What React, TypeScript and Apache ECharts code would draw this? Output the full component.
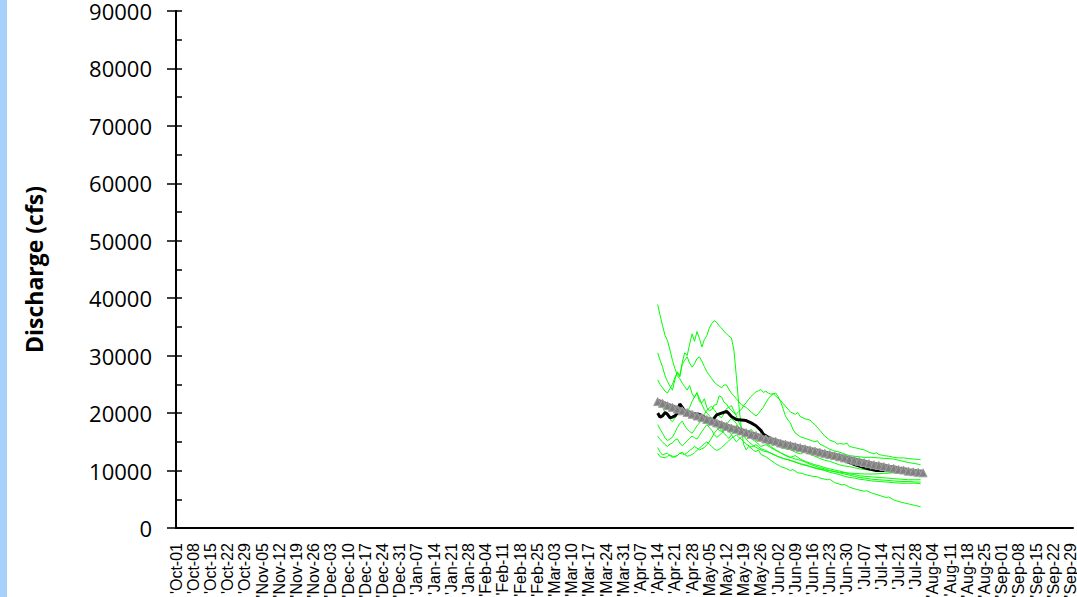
import React, { useEffect, useRef } from "react";
import * as echarts from "echarts";

const weekLabels = [
  "'Oct-01", "'Oct-08", "'Oct-15", "'Oct-22", "'Oct-29", "'Nov-05", "'Nov-12", "'Nov-19", "'Nov-26",
  "'Dec-03", "'Dec-10", "'Dec-17", "'Dec-24", "'Dec-31", "'Jan-07", "'Jan-14", "'Jan-21", "'Jan-28",
  "'Feb-04", "'Feb-11", "'Feb-18", "'Feb-25", "'Mar-03", "'Mar-10", "'Mar-17", "'Mar-24", "'Mar-31",
  "'Apr-07", "'Apr-14", "'Apr-21", "'Apr-28", "'May-05", "'May-12", "'May-19", "'May-26", "'Jun-02",
  "'Jun-09", "'Jun-16", "'Jun-23", "'Jun-30", "'Jul-07", "'Jul-14", "'Jul-21", "'Jul-28", "'Aug-04",
  "'Aug-11", "'Aug-18", "'Aug-25", "'Sep-01", "'Sep-08", "'Sep-15", "'Sep-22", "'Sep-29",
];

// [day since Oct-01, discharge cfs]
const normalCurve = [
  [196, 22000], [198, 21700], [200, 21300], [202, 21000], [204, 20700], [206, 20400], [208, 20100],
  [210, 19800], [212, 19500], [214, 19200], [216, 18900], [218, 18600], [220, 18300], [222, 18000],
  [224, 17700], [226, 17400], [228, 17200], [230, 16900], [232, 16600], [234, 16300], [236, 16100],
  [238, 15800], [240, 15500], [242, 15300], [244, 15100], [246, 14800], [248, 14600], [250, 14400],
  [252, 14200], [254, 14000], [256, 13800], [258, 13600], [260, 13400], [262, 13200], [264, 13000],
  [266, 12800], [268, 12600], [270, 12400], [272, 12200], [274, 12000], [276, 11800], [278, 11600],
  [280, 11400], [282, 11200], [284, 11000], [286, 10900], [288, 10700], [290, 10500], [292, 10400],
  [294, 10200], [296, 10100], [298, 9900], [300, 9800], [302, 9700], [304, 9600],
];

const currentYear = [
  [196, 20000], [197, 19300], [198, 19500], [199, 20100], [200, 19800], [201, 19200], [202, 19300],
  [203, 19500], [204, 20000], [205, 21600], [206, 21000], [207, 20300], [208, 20000], [210, 19800],
  [212, 19900], [214, 19600], [216, 19000], [218, 18600], [220, 19700], [222, 20000], [224, 20300],
  [225, 19900], [226, 19400], [228, 18900], [230, 18800], [232, 18700], [234, 18300], [236, 17800],
  [238, 17000], [239, 16300], [241, 15800], [244, 15100], [250, 14300], [255, 13800], [260, 13200],
  [265, 12700], [270, 12100], [274, 11400], [277, 10900], [281, 10400], [285, 10000], [290, 10000],
  [295, 9900], [300, 9600], [303, 9500],
];

const yearA = [
  [196, 38900], [197, 37000], [198, 35200], [199, 33500], [200, 32600], [201, 31000], [202, 29200],
  [203, 27800], [204, 26500], [205, 26000], [206, 25200], [207, 24600], [208, 24000], [209, 24800],
  [210, 23400], [211, 22700], [212, 23600], [213, 22000], [214, 21800], [215, 22500], [216, 21000],
  [217, 20400], [218, 20600], [219, 21400], [220, 21500], [221, 23000], [222, 22800], [223, 21900],
  [224, 21600], [225, 20900], [226, 20500], [227, 20000], [228, 19800], [229, 20300], [230, 20600],
  [231, 21300], [232, 21800], [233, 22400], [234, 22900], [235, 23300], [236, 23700], [237, 23900],
  [238, 24100], [239, 23600], [240, 23800], [241, 23500], [242, 23300], [243, 23400], [244, 23000],
  [246, 22200], [248, 21200], [250, 20200], [252, 19800], [253, 20100], [254, 19400], [256, 19000],
  [258, 18800], [259, 18300], [260, 18000], [262, 17000], [264, 16000], [266, 15300], [268, 15000],
  [269, 14600], [270, 14700], [272, 14600], [273, 14800], [274, 14200], [276, 14000], [278, 13800],
  [280, 13600], [282, 13200], [284, 12900], [285, 13100], [286, 12800], [288, 12600], [290, 12500],
  [292, 12300], [294, 12200], [296, 12200], [298, 12100], [300, 12000], [303, 11900],
];

const yearB = [
  [196, 30500], [197, 29200], [198, 28000], [199, 26500], [200, 25500], [201, 24700], [202, 24000],
  [203, 25800], [204, 27200], [205, 26500], [206, 28800], [207, 30500], [208, 30000], [209, 32000],
  [210, 33800], [211, 32500], [212, 34200], [213, 33000], [214, 31500], [215, 32800], [216, 33500],
  [217, 34800], [218, 35600], [219, 36100], [220, 35800], [221, 35200], [222, 34800], [223, 34200],
  [224, 33800], [225, 33400], [226, 33100], [227, 31000], [228, 26500], [229, 21500], [230, 17500],
  [231, 14500], [232, 13600], [233, 14200], [234, 13900], [235, 13500], [236, 13300], [237, 13600],
  [238, 12800], [240, 12400], [242, 11800], [244, 11200], [246, 10700], [248, 10400], [250, 10000],
  [251, 10200], [253, 9600], [255, 9500], [256, 9300], [258, 9100], [259, 9000], [261, 8900],
  [262, 8700], [265, 8400], [266, 8500], [268, 7900], [271, 7500], [272, 7600], [274, 7100],
  [277, 6700], [280, 6400], [281, 6500], [283, 6100], [286, 5700], [289, 5300], [290, 5400],
  [292, 4900], [295, 4500], [298, 4200], [301, 3900], [303, 3700],
];

const yearC = [
  [196, 25800], [197, 25000], [198, 24400], [199, 23800], [200, 23500], [201, 24300], [202, 25000],
  [203, 26200], [204, 27000], [205, 26300], [206, 28500], [207, 29200], [208, 29800], [209, 28700],
  [210, 28000], [211, 28600], [212, 29500], [213, 29800], [214, 29000], [215, 28100], [216, 27200],
  [217, 26600], [218, 26000], [219, 25400], [220, 25000], [221, 24700], [222, 24400], [223, 24900],
  [224, 24900], [225, 24100], [226, 23500], [227, 23000], [228, 22500], [229, 22000], [230, 21500],
  [232, 21000], [234, 20200], [236, 19500], [237, 19900], [238, 20500], [239, 21000], [240, 21800],
  [241, 22500], [242, 23000], [243, 23300], [244, 23500], [245, 22900], [246, 22000], [247, 20800],
  [248, 19500], [249, 18800], [250, 18300], [251, 17200], [252, 16500], [254, 15900], [256, 15600],
  [258, 15300], [260, 15000], [261, 15200], [262, 14600], [264, 14200], [266, 13700], [268, 13400],
  [270, 13200], [272, 12900], [274, 12600], [276, 12500], [278, 12400], [280, 12300], [283, 12300],
  [286, 12200], [289, 12100], [292, 12000], [295, 11700], [298, 11400], [301, 11200], [303, 11000],
];

const yearD = [
  [196, 22500], [197, 21600], [198, 21000], [199, 20100], [200, 19500], [201, 18900], [202, 18500],
  [203, 19100], [204, 19800], [205, 20600], [206, 21000], [207, 20300], [208, 20000], [209, 21000],
  [210, 22000], [211, 22900], [212, 23500], [213, 22600], [214, 21500], [215, 20600], [216, 20000],
  [217, 19600], [218, 19000], [219, 18100], [220, 17500], [221, 17000], [222, 16800], [223, 17300],
  [224, 18000], [225, 18600], [226, 19000], [227, 18700], [228, 18200], [229, 17500], [230, 17000],
  [232, 16800], [234, 16000], [236, 15200], [237, 15500], [238, 15800], [240, 16300], [242, 15500],
  [244, 14600], [246, 14000], [248, 13800], [250, 13600], [252, 13200], [254, 12900], [256, 13300],
  [258, 12800], [260, 12500], [262, 12100], [264, 11800], [266, 11600], [268, 11300], [270, 11000],
  [272, 10800], [274, 10700], [276, 10500], [278, 10300], [280, 10200], [283, 10000], [286, 9900],
  [289, 9800], [292, 9700], [295, 9500], [298, 9400], [301, 9300], [303, 9200],
];

const yearE = [
  [196, 18000], [197, 17200], [198, 16500], [199, 15700], [200, 15200], [201, 15500], [202, 15800],
  [203, 16600], [204, 17500], [205, 18200], [206, 18600], [207, 17800], [208, 17200], [209, 16800],
  [210, 16500], [211, 17100], [212, 17800], [213, 18300], [214, 19000], [215, 19800], [216, 20500],
  [217, 20900], [218, 21200], [219, 20600], [220, 20000], [221, 19500], [222, 19200], [223, 19900],
  [224, 20800], [225, 21000], [226, 21300], [227, 20400], [228, 19500], [229, 18400], [230, 17600],
  [232, 16500], [234, 15600], [236, 15000], [238, 14200], [240, 14500], [242, 14000], [244, 13500],
  [246, 13100], [248, 12700], [250, 12300], [252, 12600], [254, 12000], [256, 11600], [258, 11300],
  [260, 11000], [262, 10800], [264, 10500], [266, 10300], [268, 10100], [270, 9900], [272, 9700],
  [274, 9400], [276, 9300], [278, 9100], [280, 9000], [283, 8900], [286, 8800], [289, 8700],
  [292, 8600], [295, 8500], [298, 8400], [301, 8400], [303, 8400],
];

const yearF = [
  [196, 16000], [197, 15400], [198, 15000], [199, 14500], [200, 14200], [201, 14600], [202, 14800],
  [203, 15300], [204, 15500], [205, 14800], [206, 14300], [207, 14700], [208, 15200], [209, 15600],
  [210, 16000], [211, 15700], [212, 15500], [213, 16100], [214, 16800], [215, 17400], [216, 18000],
  [217, 17500], [218, 17000], [219, 16300], [220, 15800], [221, 16100], [222, 16500], [223, 16900],
  [224, 17200], [225, 16800], [226, 16300], [227, 15600], [228, 15000], [229, 15400], [230, 15800],
  [232, 16500], [234, 17200], [236, 16200], [238, 15300], [240, 14800], [242, 14200], [244, 13600],
  [246, 13100], [248, 12600], [250, 12300], [252, 12000], [254, 11800], [256, 11500], [258, 11100],
  [260, 10800], [262, 10500], [264, 10300], [266, 10000], [268, 9800], [270, 9600], [272, 9400],
  [274, 9200], [276, 9000], [278, 8800], [280, 8700], [283, 8500], [286, 8400], [289, 8300],
  [292, 8200], [295, 8100], [298, 8100], [301, 8000], [303, 8000],
];

const yearG = [
  [196, 14000], [197, 13200], [198, 12700], [199, 12900], [200, 13000], [201, 12600], [202, 12300],
  [203, 12500], [204, 12600], [205, 13000], [206, 13200], [207, 12800], [208, 12500], [209, 12600],
  [210, 12800], [211, 13100], [212, 13500], [213, 13900], [214, 14300], [215, 14700], [216, 15000],
  [217, 14600], [218, 14200], [219, 13800], [220, 13500], [221, 13700], [222, 14000], [223, 14400],
  [224, 14800], [225, 15200], [226, 15600], [227, 15900], [228, 16200], [229, 15800], [230, 15500],
  [232, 14600], [234, 14100], [236, 14500], [238, 13800], [240, 13500], [242, 13000], [244, 12600],
  [246, 12300], [248, 12000], [250, 11800], [252, 11500], [254, 11200], [256, 11000], [258, 10700],
  [260, 10400], [262, 10200], [264, 10000], [266, 9700], [268, 9500], [270, 9300], [272, 9000],
  [274, 8800], [276, 8700], [278, 8500], [280, 8400], [283, 8200], [286, 8100], [289, 8000],
  [292, 7900], [295, 7800], [298, 7800], [301, 7800], [303, 7700],
];

const yearH = [
  [196, 13000], [197, 12400], [198, 12300], [199, 12200], [200, 12500], [201, 12700], [202, 12500],
  [203, 12300], [204, 12600], [205, 13000], [206, 12900], [207, 12800], [208, 13100], [209, 13500],
  [210, 13800], [211, 14200], [212, 13900], [213, 13600], [214, 13800], [215, 14000], [216, 14500],
  [217, 15000], [218, 15700], [219, 16500], [220, 17000], [221, 17500], [222, 17000], [223, 16500],
  [224, 16000], [225, 15600], [226, 16200], [227, 16800], [228, 17200], [229, 17500], [230, 16800],
  [231, 16000], [233, 15000], [235, 14300], [237, 13800], [239, 13400], [241, 13200], [243, 12900],
  [245, 12400], [247, 12100], [249, 11900], [251, 11600], [253, 11300], [255, 11000], [258, 10700],
  [261, 10400], [264, 10100], [267, 9900], [270, 9700], [273, 9600], [276, 9500], [280, 9400],
  [284, 9400], [288, 9500], [292, 9600], [296, 9700], [300, 9800], [303, 9800],
];

const historicYears = [yearA, yearB, yearC, yearD, yearE, yearF, yearG, yearH];

export default function App() {
  const ref = useRef<HTMLDivElement>(null);
  useEffect(() => {
    if (!ref.current) return;
    const chart = echarts.init(ref.current, null, { renderer: "svg" });
    const greenSeries = historicYears.map((d, i) => ({
      type: "line",
      name: "Year " + (i + 1),
      data: d,
      showSymbol: false,
      symbol: "none",
      lineStyle: { color: "#00ff00", width: 1 },
      z: 2,
    }));
    chart.setOption({
      animation: false,
      backgroundColor: "#ffffff",
      graphic: [
        { type: "rect", left: 0, top: 0, shape: { x: 0, y: 0, width: 7, height: 597 }, style: { fill: "#a8d0fc" } },
      ],
      grid: { left: 176, right: 4, top: 11, bottom: 69, containLabel: false, outerBoundsMode: "none" },
      xAxis: {
        type: "value",
        min: 0,
        max: 365,
        interval: 7,
        axisLine: { show: true, lineStyle: { color: "#000", width: 2 } },
        axisTick: { show: false },
        splitLine: { show: false },
        axisLabel: {
          rotate: 90,
          fontFamily: "Liberation Sans",
          fontSize: 16,
          color: "#000",
          margin: 15,
          formatter: (v: number) => (v % 7 === 0 ? weekLabels[v / 7] || "" : ""),
        },
      },
      yAxis: [
        {
          type: "value",
          min: 0,
          max: 90000,
          interval: 10000,
          name: "Discharge (cfs)",
          nameLocation: "middle",
          nameGap: 131,
          nameTextStyle: { fontFamily: "Open Sans", fontWeight: "bold", fontSize: 23, color: "#000" },
          axisLine: { show: true, lineStyle: { color: "#000", width: 2 } },
          axisTick: { show: true, inside: false, length: 9, lineStyle: { color: "#000", width: 1.5 } },
          splitLine: { show: false },
          axisLabel: {
            fontFamily: "Open Sans",
            fontSize: 22,
            lineHeight: 14,
            color: "#000",
            margin: 24,
            padding: [6, 0, 0, 0],
            formatter: (v: number) => String(v),
          },
        },
        {
          type: "value",
          min: 0,
          max: 90000,
          interval: 10000,
          position: "left",
          axisLine: { show: true, lineStyle: { color: "#000", width: 2 } },
          axisTick: { show: true, inside: true, length: 6, lineStyle: { color: "#000", width: 1.5 } },
          minorTick: { show: true, splitNumber: 2, length: 6, lineStyle: { color: "#000", width: 1.5 } },
          splitLine: { show: false },
          minorSplitLine: { show: false },
          axisLabel: { show: false },
        },
      ],
      series: [
        ...greenSeries,
        {
          type: "line",
          name: "Current year",
          data: currentYear,
          symbol: "none",
          lineStyle: { color: "#000", width: 3 },
          z: 3,
        },
        {
          type: "line",
          name: "Normal",
          data: normalCurve,
          symbol: "triangle",
          symbolSize: 8,
          itemStyle: { color: "#808080", borderColor: "#a0a0a0", borderWidth: 1 },
          lineStyle: { color: "#808080", width: 6 },
          z: 4,
        },
      ],
    });
    return () => chart.dispose();
  }, []);
  return <div ref={ref} style={{ position: "fixed", left: 0, top: 0, width: 1077, height: 597 }} />;
}
